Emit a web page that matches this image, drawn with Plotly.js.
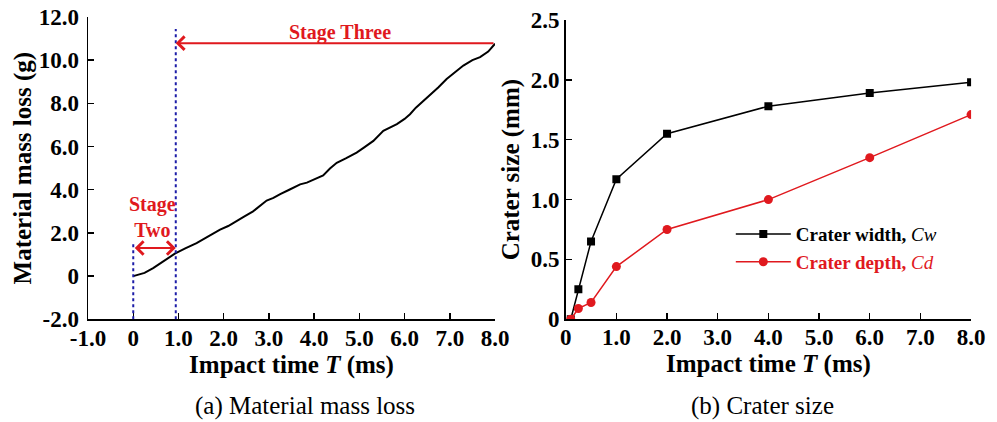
<!DOCTYPE html>
<html>
<head>
<meta charset="utf-8">
<script src="https://cdn.plot.ly/plotly-3.0.1.min.js"></script>
<style>
html,body{margin:0;padding:0;background:#fff;}
#chart{width:997px;height:422px;}
</style>
</head>
<body>
<div id="chart"></div>
<script>
// (a) Material mass loss curve
const timeA = [0, 0.1, 0.25, 0.44, 0.66, 0.92, 1.15, 1.4, 1.65, 1.92, 2.1, 2.29, 2.45, 2.65, 2.95, 3.1, 3.25, 3.45, 3.69, 3.84, 4.02, 4.2, 4.35, 4.5, 4.7, 4.94, 5.1, 5.31, 5.53, 5.7, 5.83, 6.0, 6.12, 6.25, 6.42, 6.6, 6.75, 6.93, 7.1, 7.3, 7.5, 7.67, 7.85, 8.0];
const massLoss = [0, 0.05, 0.15, 0.37, 0.68, 1.04, 1.28, 1.53, 1.83, 2.15, 2.32, 2.54, 2.75, 3.0, 3.5, 3.62, 3.8, 4.0, 4.25, 4.33, 4.5, 4.66, 4.98, 5.25, 5.45, 5.72, 5.95, 6.26, 6.73, 6.9, 7.04, 7.28, 7.5, 7.8, 8.12, 8.45, 8.75, 9.13, 9.42, 9.75, 10.0, 10.14, 10.4, 10.76];

// stage boundaries (ms) and annotation levels (g)
const stageBounds = [0, 0.94];
const boundTops = [1.6, 11.45];
const stageTwoArrowY = 1.3;
const stageThreeArrowY = 10.79;

// (b) Crater size
const timeB = [0.1, 0.25, 0.5, 1.0, 2.0, 4.0, 6.0, 8.0];
const craterWidth = [0, 0.25, 0.65, 1.17, 1.55, 1.78, 1.89, 1.98];
const craterDepth = [0, 0.09, 0.14, 0.44, 0.75, 1.0, 1.35, 1.71];

// tick labels
const xTicksA = [-1, 0, 1, 2, 3, 4, 5, 6, 7, 8];
const xTickTextA = ['-1.0', '0', '1.0', '2.0', '3.0', '4.0', '5.0', '6.0', '7.0', '8.0'];
const yTicksA = [-2, 0, 2, 4, 6, 8, 10, 12];
const yTickTextA = ['-2.0', '0', '2.0', '4.0', '6.0', '8.0', '10.0', '12.0'];
const xTicksB = [0, 1, 2, 3, 4, 5, 6, 7, 8];
const xTickTextB = ['0', '1.0', '2.0', '3.0', '4.0', '5.0', '6.0', '7.0', '8.0'];
const yTicksB = [0, 0.5, 1.0, 1.5, 2.0, 2.5];
const yTickTextB = ['0', '0.5', '1.0', '1.5', '2.0', '2.5'];

const FONT = 'Liberation Serif';
const RED = '#e0191e';
const BLUE = '#1c1ca8';

const traces = [
  {x: timeA, y: massLoss, type: 'scatter', mode: 'lines', line: {color: '#000', width: 2}, xaxis: 'x', yaxis: 'y', showlegend: false, hoverinfo: 'skip'},
  {x: timeB, y: craterWidth, type: 'scatter', mode: 'lines+markers', name: '<b>Crater width, </b><i>Cw</i>',
   line: {color: '#000', width: 1.5}, marker: {symbol: 'square', size: 8, color: '#000'}, xaxis: 'x2', yaxis: 'y2'},
  {x: timeB, y: craterDepth, type: 'scatter', mode: 'lines+markers', name: '<span style="color:' + RED + '"><b>Crater depth, </b><i>Cd</i></span>',
   line: {color: RED, width: 1.5}, marker: {symbol: 'circle', size: 9, color: RED}, xaxis: 'x2', yaxis: 'y2'}
];

const axisCommon = {
  showgrid: false, zeroline: false, showline: true, linecolor: '#000', linewidth: 1.5,
  ticks: 'inside', ticklen: 6, tickwidth: 1.5, tickcolor: '#000',
  tickfont: {family: FONT, size: 23, color: '#000', weight: 'bold'},
  tickmode: 'array'
};
const titleFont = {family: FONT, size: 25, color: '#000', weight: 'bold'};

const shapes = stageBounds.map((b, i) => ({
  type: 'line', xref: 'x', yref: 'y', x0: b, x1: b, y0: -2, y1: boundTops[i],
  line: {color: BLUE, width: 2, dash: 'dot'}
}));

const annotations = [
  {xref: 'x', yref: 'y', axref: 'x', ayref: 'y', x: stageBounds[1], y: stageThreeArrowY, ax: 8, ay: stageThreeArrowY,
   text: '', showarrow: true, arrowhead: 4, arrowsize: 1.3, arrowwidth: 2, arrowcolor: RED},
  {xref: 'x', yref: 'y', axref: 'x', ayref: 'y', x: stageBounds[1], y: stageTwoArrowY, ax: stageBounds[0], ay: stageTwoArrowY,
   text: '', showarrow: true, arrowhead: 4, startarrowhead: 4, arrowside: 'end+start', arrowsize: 1.3, startarrowsize: 1.3, arrowwidth: 2, arrowcolor: RED},
  {xref: 'x', yref: 'y', x: 4.57, y: 11.28, text: '<b>Stage Three</b>', showarrow: false,
   font: {family: FONT, size: 20, color: RED}},
  {xref: 'x', yref: 'y', x: 0.42, y: 2.75, text: '<b>Stage<br>Two</b>', showarrow: false,
   font: {family: FONT, size: 20, color: RED}},
  {xref: 'paper', yref: 'paper', x: 0.306, y: 0.038, xanchor: 'center', yanchor: 'middle', text: '(a) Material mass loss', showarrow: false,
   font: {family: FONT, size: 25, color: '#000'}},
  {xref: 'paper', yref: 'paper', x: 0.765, y: 0.038, xanchor: 'center', yanchor: 'middle', text: '(b) Crater size', showarrow: false,
   font: {family: FONT, size: 25, color: '#000'}}
];

const layout = {
  width: 997, height: 422,
  margin: {l: 0, r: 0, t: 0, b: 0},
  paper_bgcolor: '#fff', plot_bgcolor: '#fff',
  font: {family: FONT, color: '#000'},
  xaxis: Object.assign({}, axisCommon, {domain: [0.0883, 0.4965], range: [-1, 8], tickvals: xTicksA, ticktext: xTickTextA,
    anchor: 'y', ticklabelstandoff: -2, title: {text: 'Impact time <i>T</i> (ms)', font: titleFont, standoff: 5}}),
  yaxis: Object.assign({}, axisCommon, {domain: [0.2434, 0.9597], range: [-2, 12], tickvals: yTicksA, ticktext: yTickTextA,
    anchor: 'x', ticklabelstandoff: 3, title: {text: 'Material mass loss (g)', font: titleFont, standoff: 0}}),
  xaxis2: Object.assign({}, axisCommon, {domain: [0.5674, 0.974], range: [0, 8], tickvals: xTicksB, ticktext: xTickTextB,
    anchor: 'y2', ticklabelstandoff: -3, title: {text: 'Impact time <i>T</i> (ms)', font: titleFont, standoff: 5}}),
  yaxis2: Object.assign({}, axisCommon, {domain: [0.2434, 0.9526], range: [0, 2.5], tickvals: yTicksB, ticktext: yTickTextB,
    anchor: 'x2', ticklabelstandoff: 0, title: {text: 'Crater size (mm)', font: titleFont, standoff: 4}}),
  showlegend: true,
  legend: {x: 0.733, y: 0.49, xanchor: 'left', yanchor: 'top', bgcolor: 'rgba(0,0,0,0)',
    font: {family: FONT, size: 19, color: '#000'}, tracegroupgap: 0, itemwidth: 55},
  shapes: shapes,
  annotations: annotations
};

Plotly.newPlot('chart', traces, layout, {displayModeBar: false, staticPlot: true});
</script>
</body>
</html>
